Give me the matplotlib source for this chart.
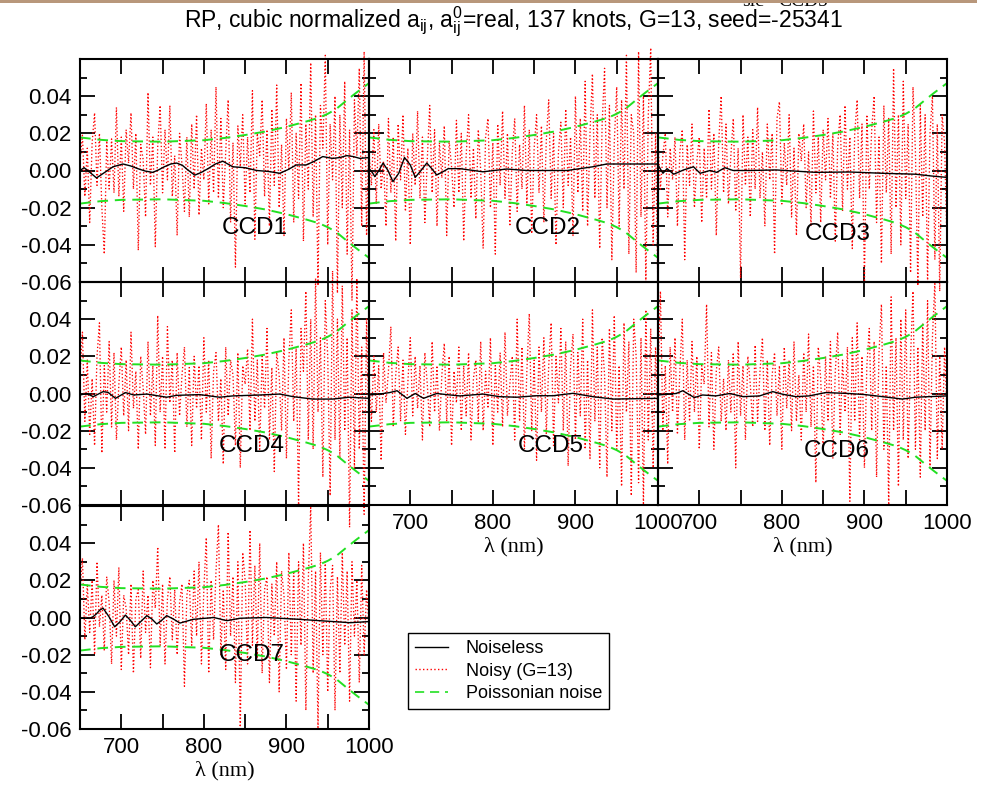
import numpy as np
import matplotlib
matplotlib.use('Agg')
import matplotlib.pyplot as plt
from matplotlib.patches import Rectangle
from matplotlib.lines import Line2D

plt.rcParams['font.family'] = ['Liberation Sans', 'DejaVu Sans']
plt.rcParams['mathtext.fontset'] = 'custom'
plt.rcParams['mathtext.rm'] = 'Liberation Sans'
plt.rcParams['mathtext.it'] = 'Liberation Sans:italic'

# wavelength grid of the noisy spectra (nm)
lam = np.linspace(650, 1000, 120)

# noisy residuals (units of 1e-3)
noisy_ccd1 = [5, 19, -14, 12, -28, 15, 31, -8, 20, -20,
              -45, 16, -10, 17, -12, 34, -14, 18, -22, 22,
              4, 31, -10, 20, -43, 14, 6, -25, 42, -8,
              18, -41, 13, 35, -12, 22, -5, 35, -14, 8,
              -35, 20, 3, -22, 18, -25, 25, -10, 30, -24,
              12, -5, 36, -18, 22, -12, 45, -15, 28, -20,
              10, 38, -28, 15, -52, 24, 2, 30, -18, 18,
              -12, 43, -37, 20, 8, 38, -14, 22, -30, 33,
              -8, 46, -20, 14, -35, 28, 0, 42, -28, 20,
              -15, 47, -38, 25, -10, 58, -25, 30, -62, 35,
              12, 62, -40, 25, -5, 40, -66, 30, -20, 48,
              -45, 22, -70, 38, 8, 55, -30, 64, -35, 20]
noisy_ccd2 = [10, -8, 22, -18, 25, -10, 5, -30, 28, -12,
              18, -38, 25, -5, 30, -22, 12, -40, 20, -8,
              32, -15, 18, -28, 6, 35, -12, 22, -30, 15,
              -4, 24, -35, 16, 2, -20, 27, -12, 20, -38,
              8, 30, -15, 12, -26, 22, 0, -42, 18, 28,
              -20, 15, -45, 25, -8, 32, -15, 20, -30, 10,
              28, -22, 14, -10, 35, -18, 22, -34, 12, 30,
              -12, 24, -28, 16, 38, -15, 20, -40, 10, 26,
              -20, 33, -8, 18, -35, 40, -12, 28, -22, 48,
              -30, 20, 52, -15, 30, -42, 25, 55, -20, 35,
              -48, 15, 45, -30, 38, -10, 62, -45, 30, 20,
              -55, 64, -25, 40, -60, 30, 66, -40, 20, -68]
noisy_ccd3 = [15, -10, 8, 20, -25, 12, -5, 18, -30, 10,
              22, -48, 14, -8, 25, -20, 5, 18, -28, 12,
              -15, 33, -10, 20, -35, 15, 40, -12, 25, -18,
              8, 28, -22, 12, -58, 30, -8, 18, -25, 22,
              -10, 34, -15, 10, -30, 25, -5, 20, -45, 28,
              37, -18, 15, -8, 30, -25, 12, -35, 20, 5,
              25, -20, 10, -30, 32, -12, 18, -28, 22, -5,
              28, -15, 20, -38, 14, 30, -22, 35, -10, 18,
              -42, 20, 38, -15, 25, -60, 30, -10, 22, 40,
              -28, 18, -50, 35, -12, 28, -45, 55, -20, 30,
              -40, 48, -15, 25, -55, 45, 10, -62, 35, -25,
              30, -60, 20, 40, -48, 25, -65, 30, 15, -40]
noisy_ccd4 = [10, 33, -15, 18, -22, 8, -28, 20, 38, -32,
              15, -10, 28, -18, 22, -25, 5, 25, -12, 18,
              -20, 33, -8, 12, -30, 20, 3, -22, 28, -12,
              15, -28, 42, -10, 20, -30, 36, -5, 18, -32,
              22, -12, 10, 25, -18, 14, -28, 20, -8, 15,
              -25, 30, -10, 18, -35, 12, 22, -15, 8, -38,
              25, -12, 18, 10, -28, 22, -40, 15, 5, 24,
              -20, 40, -15, 18, -30, 20, -8, 35, -25, 14,
              -42, 22, 10, -20, 30, -35, 18, 45, -15, 25,
              -60, 35, 12, 55, -25, 40, -30, 62, -10, 30,
              -45, 50, 20, -55, 66, -25, 40, -35, 58, -20,
              30, -72, 45, -40, 62, -30, 25, -65, 40, -20]
noisy_ccd5 = [8, -15, 20, -10, 15, -36, 22, -5, 12, 36,
              -18, 10, 25, -15, 18, -22, 6, 30, -12, 20,
              -8, 15, -25, 22, 5, -18, 28, -10, 15, -20,
              10, 27, -15, 20, -28, 12, -5, 25, -20, 15,
              -12, 22, -25, 8, 18, -15, 28, -20, 12, -8,
              30, -28, 15, -10, 22, -18, 33, -12, 5, 20,
              -25, 40, -15, 25, -30, 12, 43, -20, 18, -36,
              25, -10, 30, -22, 15, 38, -28, 20, -5, 35,
              -20, 28, -39, 15, 32, -25, 22, -12, 40, -30,
              18, -35, 45, -15, 25, -40, 30, 10, -45, 35,
              -20, 42, -30, 15, -50, 38, -10, 28, -55, 40,
              20, -48, 30, -60, 45, -25, 35, -40, 25, -15]
noisy_ccd6 = [10, 55, -20, 15, -38, 25, -10, 30, -22, 12,
              40, -25, 18, -15, 28, -10, 20, -30, 15, 5,
              48, -18, 22, -30, 12, 25, -15, 8, -20, 18,
              -10, 22, -40, 28, -12, 15, -25, 20, 5, -18,
              26, -15, 12, 30, -20, 18, -28, 10, 22, -12,
              15, -30, 25, -8, 18, -20, 28, -15, 10, -25,
              22, -10, 32, -18, 15, -48, 25, 8, -30, 20,
              -15, 28, -35, 12, 33, -22, 18, -10, 25, -58,
              30, -15, 38, -25, 20, -40, 15, 35, -20, 28,
              -45, 22, 48, -30, 15, -60, 52, -20, 30, -50,
              40, -25, 45, -35, 20, 55, -30, 25, -45, 38,
              -20, 50, -40, 30, 60, -35, 20, -30, 25, -10]
noisy_ccd7 = [15, 32, -12, 18, -8, 20, -20, 30, -5, 12,
              -18, 22, 8, -25, 20, -10, 27, -28, 12, 5,
              -20, 18, -30, 10, 15, -22, 25, -8, 12, -27,
              20, 5, 38, -15, 18, -25, 10, 22, -12, 15,
              -20, 8, 18, -37, 12, 20, -15, 25, -10, 30,
              -25, 15, 43, -30, 20, -12, 25, 50, -20, 15,
              -28, 46, -10, 22, -35, 30, -60, 35, 20, -25,
              47, -15, 28, -22, 40, -30, 15, 22, -35, 18,
              -10, 30, -40, 25, 12, -28, 35, -20, 25, -45,
              30, -15, 40, -50, 20, 60, -30, 25, -60, 35,
              -20, 30, -40, 15, 28, -50, 22, -30, 35, -15,
              25, -45, 30, -10, 20, -35, 28, -20, 15, -5]

# noiseless residuals (knots in nm, values in 1e-3)
ccd1_wl = [650, 655, 662, 670, 680, 690, 702, 711, 720, 729, 738, 745, 752, 760,
           767, 774, 780, 789, 797, 805, 814, 823, 835, 850, 864, 878, 892, 902,
           912, 924, 934, 944, 956, 965, 973, 981, 989, 1000]
ccd1_clean = [0, 1.5, -1, -4, -1, 2, 3.5, 2.5, 1, -0.3, -1, 0.3, 2, 3.5,
              4, 2.8, 0.5, -2.5, -1, 1, 3.5, 5, 2, 1.5, 0, -0.5, -1.5, 0.5,
              3, 3, 5, 7.5, 6.5, 7, 8, 7.5, 6.5, 7]
ccd2_wl = [650, 654, 657, 662, 667, 673, 679, 686, 693, 700, 706, 713, 720, 726,
           732, 739, 746, 760, 788, 817, 841, 890, 921, 938, 1000]
ccd2_clean = [1, -1, -3.3, 0, 4, 0, -6, -1.5, 7, 3, -3.7, 0, 4, 1,
              -2.4, -0.8, 1, 1, -0.7, 0.8, 0, 0, 2, 3.5, 3.5]
ccd3_wl = [650, 656, 661, 669, 681, 693, 701, 713, 721, 731, 741, 761, 793, 841,
           882, 922, 962, 982, 1000]
ccd3_clean = [3, -1.5, 1, -2, 0.3, 2, -1.5, 0, -1, 1.5, 0, 0, 0.3, -1,
              -0.8, -1.5, -2, -3, -3.7]
ccd4_wl = [650, 658, 666, 678, 684, 693, 705, 715, 731, 755, 767, 795, 819, 835,
           868, 892, 908, 932, 956, 976, 1000]
ccd4_clean = [-0.8, 0, -1.7, 1, 0.6, -2.6, 0.5, -0.8, -0.3, -2, -1, -0.6, -2, -1.3,
              -0.8, -0.3, -1.7, -3, -3, -2, -2.6]
ccd5_wl = [650, 663, 675, 684, 696, 706, 716, 732, 744, 760, 788, 808, 829, 853,
           873, 897, 921, 946, 1000]
ccd5_clean = [-0.8, -0.3, 0.5, 1.5, -2.6, 0, -2.6, 0, -0.6, -1.3, -0.3, -1.7, -2, -1.2,
              -1.2, 0.1, -1.7, -3, -2.6]
ccd6_wl = [650, 664, 672, 680, 694, 704, 720, 737, 753, 773, 789, 801, 817, 833,
           853, 881, 901, 922, 946, 962, 1000]
ccd6_clean = [-0.8, -0.3, 0, 1.5, -2.2, -0.8, -1.3, 0, -1.7, -1.3, 1, -0.4, -1.7, -1.3,
              0.5, 0, -0.6, -1.7, -3, -2, -1.3]
ccd7_wl = [650, 662, 666, 670, 674, 678, 685, 692, 698, 705, 711, 717, 724, 731,
           737, 743, 749, 755, 763, 771, 779, 787, 812, 828, 844, 876, 916, 957,
           977, 1000]
ccd7_clean = [-0.4, -0.4, 0.5, 2, 4, 5, 0.5, -5, -2.5, 1.3, -1.5, -5, -2, 1,
              -0.8, -3.5, -1.5, 1, -0.8, -3, -2, -1, 0, -1.7, -0.4, 0, -1, -2.2,
              -2.8, -2.2]

# poissonian noise level (same for all CCDs)
sig_wl = [650, 675, 700, 750, 800, 825, 850, 875, 900, 925, 940, 950, 960, 975, 985, 1000]
sig = [0.0178, 0.0165, 0.0158, 0.0155, 0.0163, 0.0175, 0.0191, 0.021, 0.0235, 0.0265,
       0.0285, 0.0305, 0.033, 0.0385, 0.042, 0.047]

names = ['CCD1', 'CCD2', 'CCD3', 'CCD4', 'CCD5', 'CCD6', 'CCD7']
noisy = [noisy_ccd1, noisy_ccd2, noisy_ccd3, noisy_ccd4, noisy_ccd5, noisy_ccd6, noisy_ccd7]
clean_wl = [ccd1_wl, ccd2_wl, ccd3_wl, ccd4_wl, ccd5_wl, ccd6_wl, ccd7_wl]
clean = [ccd1_clean, ccd2_clean, ccd3_clean, ccd4_clean, ccd5_clean, ccd6_clean, ccd7_clean]

W, H = 996, 787
fig = plt.figure(figsize=(W / 100, H / 100), dpi=100)

col_x = [80, 369, 658]
row_y = [59, 282, 506]
pw, ph = 289, 223
label_pos = [(862, -0.031), (867, -0.031), (868, -0.034), (858, -0.028),
             (870, -0.028), (867, -0.031), (858, -0.020)]

red_dot = (0, (1, 1.7))
green_dash = (0, (5.5, 3.5))

for i, name in enumerate(names):
    r, c = divmod(i, 3)
    ax = fig.add_axes([col_x[c] / W, 1 - (row_y[r] + ph) / H, pw / W, ph / H])
    ax.set_facecolor('none')

    ax.plot(lam, np.array(noisy[i]) / 1000, color='red', ls=red_dot, lw=0.95, clip_on=False)
    ax.plot(sig_wl, sig, color='#22e022', ls=green_dash, lw=1.4)
    ax.plot(sig_wl, -np.array(sig), color='#22e022', ls=green_dash, lw=1.4)
    ax.plot(clean_wl[i], np.array(clean[i]) / 1000, color='black', lw=1.0)

    ax.text(label_pos[i][0], label_pos[i][1], name, fontsize=17.5, ha='center', va='center')

    ax.set_xlim(650, 1000)
    ax.set_ylim(-0.06, 0.06)
    ax.set_xticks(np.arange(650, 1001, 50))
    ax.set_yticks([-0.06, -0.04, -0.02, 0.0, 0.02, 0.04, 0.06])
    ax.set_yticks(np.arange(-0.05, 0.06, 0.02), minor=True)
    ax.tick_params(which='both', direction='in', top=True, right=True, width=1.3)
    ax.tick_params(which='major', length=11, labelsize=16, pad=6)
    ax.tick_params(which='minor', length=5)
    for sp in ax.spines.values():
        sp.set_linewidth(1.5)

    if c == 0:
        ax.set_yticklabels(['-0.06', '-0.04', '-0.02', '0.00', '0.02', '0.04', ''])
    else:
        ax.set_yticklabels([])
    if name in ('CCD5', 'CCD6', 'CCD7'):
        ax.set_xticklabels(['', '700', '', '800', '', '900', '', '1000'])
        ax.set_xlabel('λ (nm)', family='Liberation Serif', fontsize=16, labelpad=2)
    else:
        ax.set_xticklabels([])

fig.text(0.516, 1 - 22 / H,
         r'RP, cubic normalized a$_{\rm ij}$, a$^{0}_{\rm ij}$=real, 137 knots, G=13, seed=-25341',
         ha='center', va='center', fontsize=16.5)

# cropped remains at the top of the page
fig.text(742 / W, 1 - 6 / H, 'slc', family='Liberation Serif', fontsize=14, va='baseline')
fig.text(778 / W, 1 - 6 / H, 'CCD5', family='Liberation Serif', fontsize=14, va='baseline')
fig.patches.append(Rectangle((0, 1 - 3 / H), 977 / W, 3 / H, transform=fig.transFigure,
                             facecolor='#b8977b', edgecolor='none', zorder=10))

handles = [Line2D([], [], color='black', lw=1.0),
           Line2D([], [], color='red', ls=red_dot, lw=1.0),
           Line2D([], [], color='#22e022', ls=green_dash, lw=1.2)]
leg = fig.legend(handles, ['Noiseless', 'Noisy (G=13)', 'Poissonian noise'],
                 loc='upper left', bbox_to_anchor=(408 / W, 1 - 633 / H),
                 fontsize=13, frameon=True, fancybox=False, framealpha=1,
                 edgecolor='black', handlelength=1.8, borderpad=0.4,
                 labelspacing=0.3, handletextpad=1.0, borderaxespad=0)
leg.get_frame().set_linewidth(1.0)

fig.savefig('out.png', dpi=100)
